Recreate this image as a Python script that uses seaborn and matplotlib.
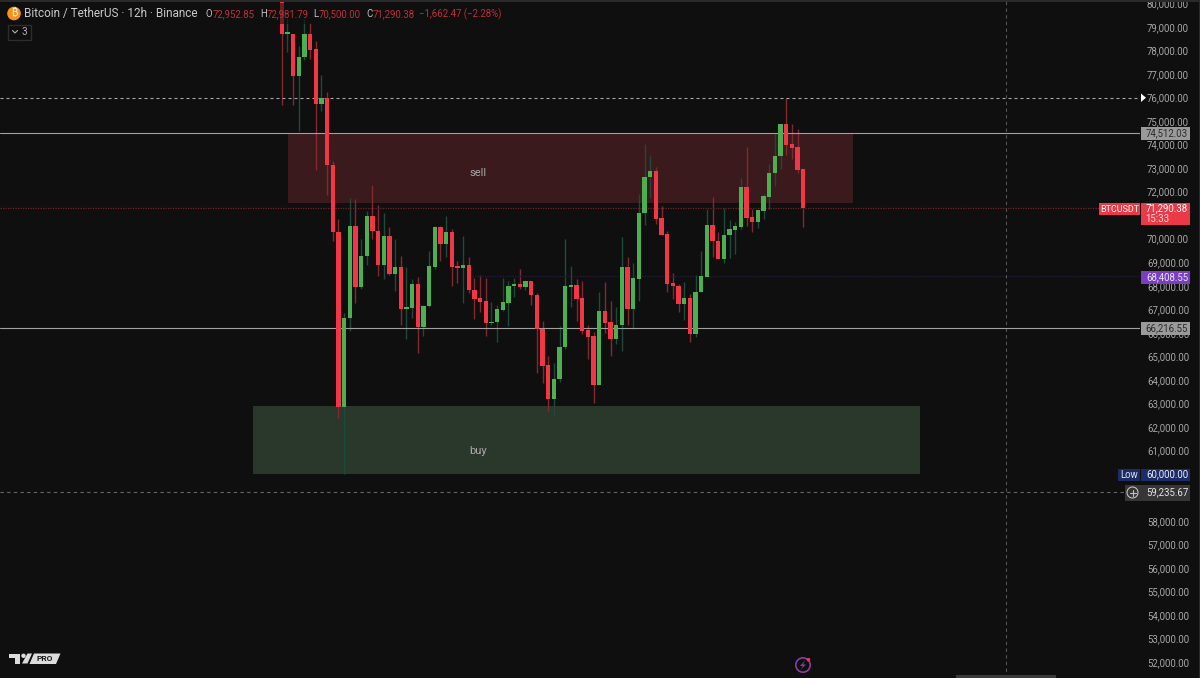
import numpy as np
import pandas as pd
import matplotlib
matplotlib.use("Agg")
import matplotlib.pyplot as plt
from matplotlib.patches import Rectangle, Polygon, Circle
import seaborn as sns

# -------- candles (12h BTCUSDT) --------
opens = [80100, 78720, 78710, 76930, 77720, 78710, 78050, 75710, 76000, 73130,
         70284, 62858, 66614, 70539, 67931, 69263, 70978, 70312, 68895, 70113,
         68484, 68810, 67024, 67053, 68059, 66245, 67123, 68810, 70510, 69774,
         70284, 68820, 68770, 68881, 67818, 67478, 67350, 66429, 66443, 66968,
         67280, 67988, 68073, 67931, 68200, 67620, 66174, 64630, 63184, 64020,
         65381, 67960, 68030, 67477, 66117, 65862, 63793, 66939, 66443, 65734,
         66330, 68809, 66995, 68300, 71091, 72621, 72876, 70864, 70184, 68101,
         68002, 67236, 67491, 65947, 67732, 68384, 70580, 69914, 69135, 70141,
         70382, 70495, 72210, 70906, 70708, 71189, 71785, 72777, 73513, 74859,
         74009, 73896, 72952.85]
highs = [80300, 79380, 78710, 78200, 79340, 79170, 78410, 76940, 76220, 73300,
         70822, 66826, 71715, 71686, 69972, 71190, 72270, 71431, 71105, 70482,
         69972, 69263, 68810, 68285, 68371, 67180, 69476, 70539, 70539, 70964,
         70397, 69037, 70113, 69207, 68328, 68456, 68328, 67308, 67180, 68314,
         68186, 68314, 68697, 68215, 68200, 67676, 66500, 65012, 64729, 66288,
         69972, 68838, 68285, 68200, 66330, 66032, 67747, 68172, 67350, 67081,
         70070, 69234, 68979, 71884, 74024, 73542, 73032, 71388, 70311, 68526,
         68073, 68172, 67633, 68441, 69489, 71260, 71756, 70268, 71303, 70793,
         70722, 72564, 73896, 71275, 71204, 71898, 73173, 74434, 74859, 75965,
         74874, 74647, 72981.79]
lows = [75680, 77930, 75680, 74590, 77590, 77620, 72920, 75440, 71860, 69900,
        62379, 60000, 66089, 67280, 67875, 68867, 69972, 68413, 68300, 68456,
        67775, 66344, 65749, 66628, 65126, 65877, 67081, 68725, 69037, 69235,
        67988, 68130, 67280, 67676, 66599, 66883, 65877, 66330, 65607, 66940,
        66273, 67535, 67875, 67818, 67180, 64276, 63879, 62688, 62490, 63921,
        65324, 67081, 66500, 65947, 64898, 63028, 63793, 66004, 65026, 65522,
        65238, 66315, 66145, 67364, 70581, 71728, 70623, 70141, 67732, 67449,
        66896, 66528, 65621, 65833, 67732, 68384, 69234, 69135, 68979, 69191,
        69333, 70396, 70538, 70297, 70467, 70849, 71275, 72252, 72961, 73556,
        73386, 72805, 70500]
closes = [78700, 78760, 76930, 77720, 78710, 78030, 75710, 76000, 73130, 70280,
          62858, 66614, 70539, 67931, 69263, 70978, 70312, 68895, 70113, 68484,
          68810, 67024, 67080, 68059, 66245, 67152, 68838, 70510, 69774, 70284,
          68782, 68770, 68881, 67804, 67450, 67322, 66429, 66472, 66996, 67294,
          67988, 68073, 67931, 68200, 67605, 66174, 64601, 63184, 64049, 65409,
          67988, 68030, 67450, 66089, 65834, 63793, 66939, 66415, 65734, 66330,
          68809, 66995, 68328, 71091, 72635, 72876, 70850, 70170, 68087, 67988,
          67236, 67491, 65947, 67746, 68398, 70580, 69900, 69135, 70169, 70396,
          70523, 72210, 70878, 70708, 71204, 71813, 72791, 73513, 74859, 73981,
          73868, 72918, 71290.38]

# 71000, 60000 and 59000 sit under the price badges in the reference
price_ticks = [52000, 53000, 54000, 55000, 56000, 57000, 58000, 61000, 62000, 63000,
               64000, 65000, 66000, 67000, 68000, 69000, 70000, 72000, 73000, 74000,
               75000, 76000, 77000, 78000, 79000, 80000]
sell_zone = (71516, 74512)
buy_zone = (60020, 62889)
level_white = 76000
level_grey = [74512.03, 66216.55]
level_last = 71290.38
level_purple = 68408.55
level_cursor = 59235.67

BG = "#0f0f0f"
UP = "#4caf50"
DOWN = "#f23645"
UP_WICK = "#1d4a3a"
DOWN_WICK = "#82282f"
FS = 6.9

df = pd.DataFrame({"o": opens, "h": highs, "l": lows, "c": closes})
df["idx"] = np.arange(len(df))
df["up"] = df["c"] >= df["o"]
df["bottom"] = df[["o", "c"]].min(axis=1)
df["size"] = (df["c"] - df["o"]).abs().clip(lower=50)

sns.set_theme(style="dark", rc={"axes.facecolor": BG, "figure.facecolor": BG})
plt.rcParams["font.family"] = ["Roboto", "DejaVu Sans"]

fig = plt.figure(figsize=(12, 6.78), dpi=100)
ax = fig.add_axes([0, 0, 1140 / 1200, 1])

# -------- zones --------
ax.fill_between([1.1, 100.76], *sell_zone, color="#3a1a1c", lw=0, zorder=1)
ax.fill_between([-5.06, 112.57], *buy_zone, color="#2a382b", lw=0, zorder=1)
ax.text(34.7, 72790, "sell", color="#a8a8a8", fontsize=8, ha="center", va="center")
ax.text(34.7, 60976, "buy", color="#a8a8a8", fontsize=8, ha="center", va="center")

# -------- candles --------
ax.vlines(df.loc[df.up, "idx"], df.loc[df.up, "l"], df.loc[df.up, "h"],
          color=UP_WICK, lw=1, zorder=2)
ax.vlines(df.loc[~df.up, "idx"], df.loc[~df.up, "l"], df.loc[~df.up, "h"],
          color=DOWN_WICK, lw=1, zorder=2)
for flag, col in [(True, UP), (False, DOWN)]:
    part = df[df.up == flag]
    sns.barplot(data=part, x="idx", y="size", bottom=part["bottom"].values, native_scale=True,
                color=col, saturation=1, width=0.76, linewidth=0, errorbar=None, ax=ax, zorder=3)

# -------- levels --------
ax.axhline(level_white, color="#a8a8a8", lw=0.8, ls=(0, (2.7, 2.7)), zorder=2.5)
for lv in level_grey:
    ax.axhline(lv, color="#a0a0a0", lw=0.8, zorder=2.5)
ax.axhline(level_last, color="#6e2229", lw=0.9, ls=(0, (1, 1)), zorder=2)
ax.plot([33.5, 151.4], [level_purple, level_purple], color="#261c3c", lw=0.9, ls=(0, (1, 1)), zorder=2)
ax.axhline(level_cursor, color="#666666", lw=0.8, ls=(0, (3, 3)), zorder=2)
ax.axvline(127.74, color="#555555", lw=0.8, ls=(0, (3, 3)), zorder=2)

ax.set_xlim(-49.68, 151.38)
ax.set_ylim(51329, 80144)
ax.set_xlabel("")
ax.set_ylabel("")
ax.set_xticks([])
ax.yaxis.tick_right()
ax.set_yticks(price_ticks)
ax.set_yticklabels([f"{p:,.2f}" for p in price_ticks], color="#a6a6a6", fontsize=FS)
ax.tick_params(axis="y", length=0, pad=5)
ax.grid(False)
sns.despine(ax=ax, left=True, bottom=True, right=True, top=True)

# -------- overlay in pixel coordinates: header, badges, logo --------
ov = fig.add_axes([0, 0, 1, 1])
ov.set_xlim(0, 1200)
ov.set_ylim(678, 0)
ov.axis("off")
ov.patch.set_alpha(0)

ov.add_patch(Rectangle((0, 0), 1200, 1.5, color="#2a2a2a", lw=0))
ov.add_patch(Rectangle((1198.5, 0), 1.5, 678, color="#2a2a2a", lw=0))
ov.add_patch(Rectangle((0, 3), 505, 21, color=BG, alpha=0.6, lw=0))

ov.add_patch(Circle((14, 13.5), 6.8, color="#f7931a", lw=0))
ov.text(14, 13.5, "₿", color="white", fontsize=7, ha="center", va="center",
        family=["Inter", "Noto Sans", "Open Sans", "Lato", "Liberation Sans", "DejaVu Sans"])
ov.text(24, 14, "Bitcoin / TetherUS · 12h · Binance", color="#c9c9c9", fontsize=8.5, va="center")
for x, t in [(206, "O"), (260, "H"), (313, "L"), (366, "C")]:
    ov.text(x, 14, t, color="#c0c0c0", fontsize=FS, va="center")
for x, t in [(213, "72,952.85"), (267, "72,981.79"), (319, "70,500.00"), (373, "71,290.38"),
             (419, "−1,662.47 (−2.28%)")]:
    ov.text(x, 14, t, color="#bd2f38", fontsize=FS, va="center")

ov.add_patch(Rectangle((7.5, 24.5), 23.5, 15, fill=False, ec="#2c2c2c", lw=1))
ov.plot([12.5, 15, 17.5], [30.5, 33, 30.5], color="#b0b0b0", lw=0.8)
ov.text(24, 32, "3", color="#b0b0b0", fontsize=7.2, ha="center", va="center")

def badge(x0, x1, y0, y1, bg, txt, col, cx=None, fs=FS):
    ov.add_patch(Rectangle((x0, y0), x1 - x0, y1 - y0, color=bg, lw=0, zorder=4))
    ov.text(1167 if cx is None else cx, (y0 + y1) / 2, txt, color=col, fontsize=fs,
            ha="center", va="center", zorder=5)

badge(1141, 1190, 127, 140, "#9a9a9a", "74,512.03", "#2b2b2b")
badge(1141, 1190, 322, 335, "#9a9a9a", "66,216.55", "#2b2b2b")
badge(1141, 1190, 271, 284, "#7a3ec2", "68,408.55", "#e8e0f5")
badge(1141, 1190, 203, 225, "#ea3a48", "", "white")
ov.text(1167, 208.7, "71,290.38", color="white", fontsize=FS, ha="center", va="center", zorder=5)
ov.text(1157, 219, "15:33", color="#ffd5d8", fontsize=FS, ha="center", va="center", zorder=5)
badge(1099, 1140, 203, 215, "#ea3a48", "BTCUSDT", "white", cx=1119.5, fs=6.5)
badge(1118, 1140, 468.5, 480.5, "#1c2c66", "Low", "#e0e4f0", cx=1129)
badge(1141, 1190, 468.5, 480.5, "#1c2c66", "60,000.00", "#e8ecf8")
badge(1125, 1190, 484.5, 500.5, "#363636", "59,235.67", "#e6e6e6")
ov.add_patch(Circle((1132.5, 492.5), 5.5, fill=False, ec="#c0c0c0", lw=0.8, zorder=5))
ov.plot([1129.5, 1135.5], [492.5, 492.5], color="#c0c0c0", lw=0.8, zorder=5)
ov.plot([1132.5, 1132.5], [489.5, 495.5], color="#c0c0c0", lw=0.8, zorder=5)
ov.add_patch(Polygon([[1141, 93.5], [1141, 102], [1146, 97.7]], color="white", lw=0))

# TV logo
ov.add_patch(Polygon([[9, 653.5], [20, 653.5], [20, 663.5], [15, 663.5], [15, 658], [9, 658]],
                     color="#dcdcdc", lw=0))
ov.add_patch(Circle((23.5, 655.8), 2.2, color="#dcdcdc", lw=0))
ov.add_patch(Polygon([[27.5, 653.5], [32, 653.5], [27.5, 663.5], [22, 663.5]], color="#dcdcdc", lw=0))
ov.add_patch(Polygon([[34, 653.5], [60.5, 653.5], [56, 664], [29.5, 664]], color="#dcdcdc", lw=0))
ov.text(45, 658.8, "PRO", color="#1a1a1a", fontsize=6, fontweight="bold", ha="center", va="center")

# lightning badge + scrollbar
ov.add_patch(Circle((803, 665), 7.2, fill=False, ec="#8c3aa8", lw=1.2))
ov.add_patch(Polygon([[805, 660.5], [800, 666], [803, 666], [801, 669.5], [806, 664.5], [803, 664.5]],
                     color="#8c3aa8", lw=0))
ov.add_patch(Circle((808.5, 659.7), 1.8, color="#f23645", lw=0))
ov.add_patch(Rectangle((956, 674.5), 100, 3.5, color="#3a3a3a", lw=0))

fig.savefig("out.png", dpi=100, facecolor=BG)
